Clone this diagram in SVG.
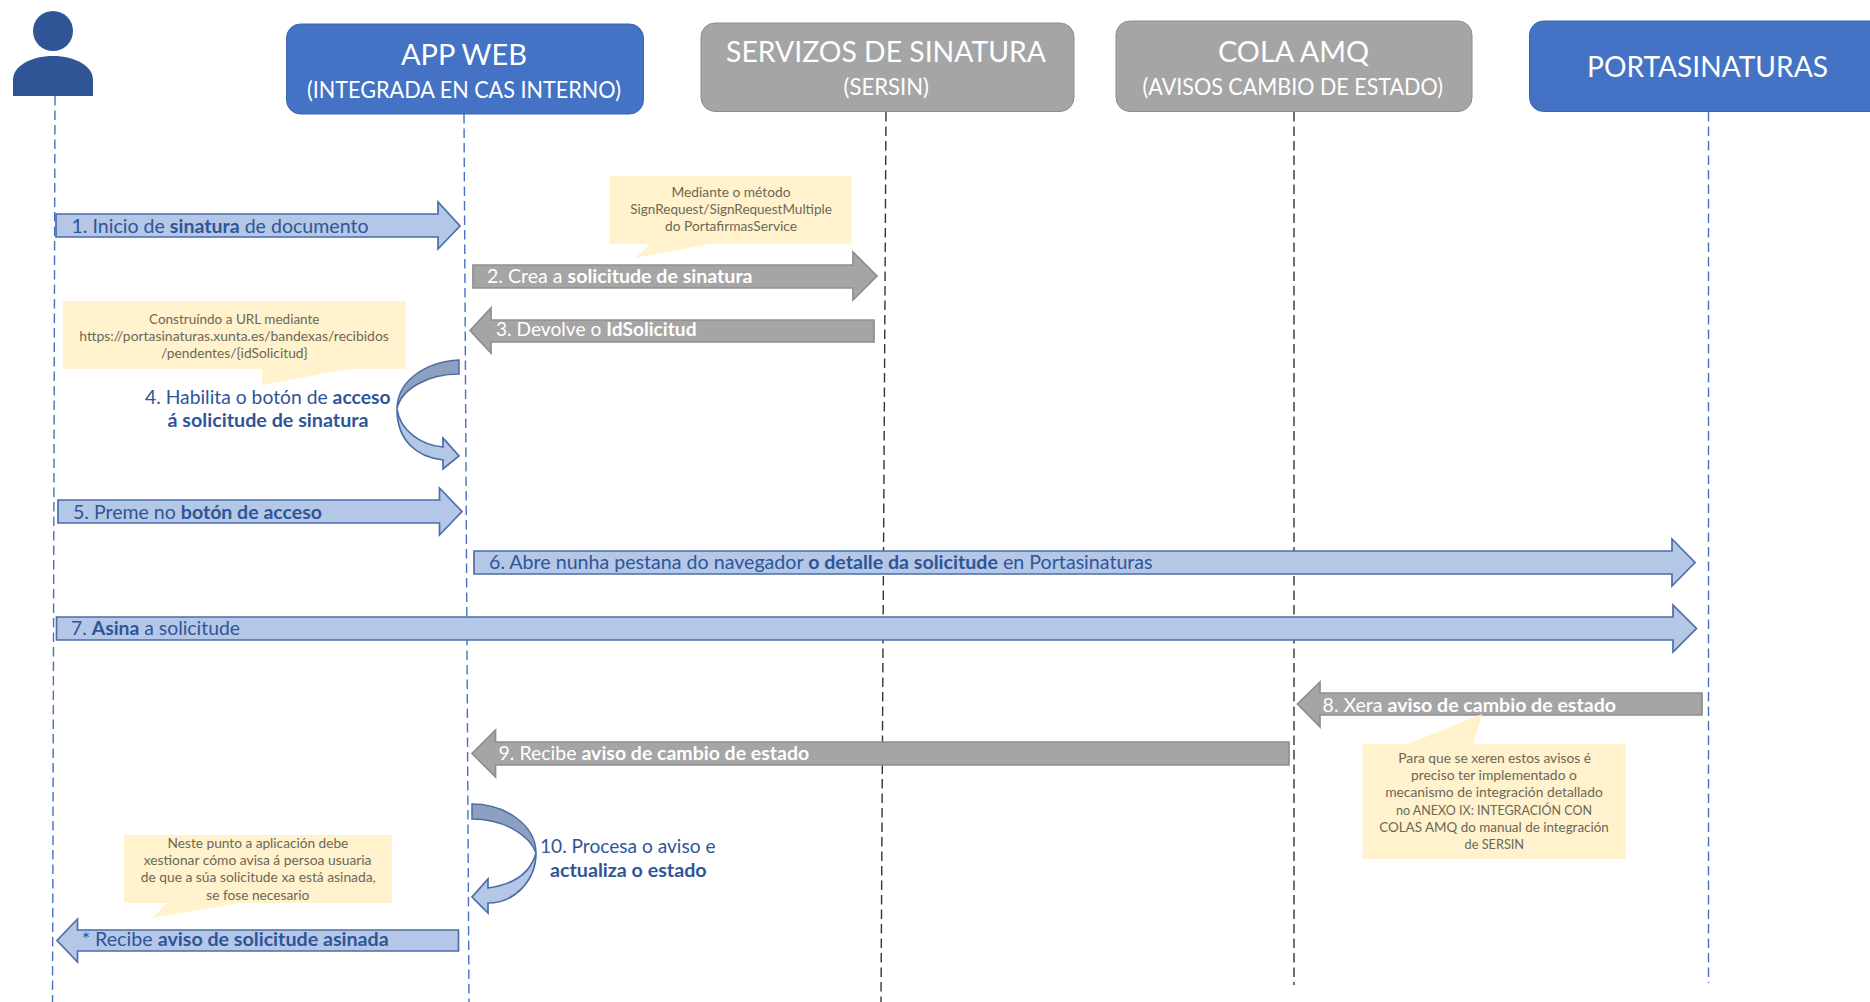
<svg xmlns="http://www.w3.org/2000/svg" width="1870" height="1002" viewBox="0 0 1870 1002">
<style>
text{font-family:Lato,"Liberation Sans",sans-serif}
.bb{fill:#4472c4;stroke:#3b65ae;stroke-width:1}
.gb{fill:#a5a5a5;stroke:#8e8e8e;stroke-width:1}
.t1{fill:#fff;font-size:29px;text-anchor:start}
.t2{fill:#fff;font-size:23px;text-anchor:start}
.lb{fill:none;stroke:#4472c4;stroke-width:1.4;stroke-dasharray:9.500 5}
.lk{fill:none;stroke:#333;stroke-width:1.4;stroke-dasharray:9.500 5}
.ab{fill:#b4c7e7;stroke:#4b6ea9;stroke-width:1.7}
.ag{fill:#a5a5a5;stroke:#8e8e8e;stroke-width:1.7}
.ad{fill:#8ea0bf;stroke:#4b6ea9;stroke-width:1.5}
.tb{fill:#2f5597;font-size:19px}
.tw{fill:#fff;font-size:19px}
.bd{font-weight:700}
.nb{fill:#fff2cc;stroke:none}
.nt{fill:#6b6858;font-size:13px}
</style>
<rect width="1870" height="1002" fill="#fff"/>
<g id="connectors">
<path class="lb" d="M55 96L52.500 1002"/>
<path class="lb" d="M464 114L469 1002"/>
<path class="lk" d="M886 112L881 1002"/>
<path class="lk" d="M1294 112V985"/>
<path class="lb" d="M1708.500 112V983"/>
<g id="arrow-1"><polygon class="ab" points="56,214 438,214 438,202 460,226 438,249 438,237 56,237"/><text class="tb" x="71.500" y="233" textLength="297" lengthAdjust="spacingAndGlyphs">1. Inicio de <tspan class="bd">sinatura</tspan> de documento</text></g>
<g id="arrow-2"><polygon class="ag" points="473,265 853,265 853,252 877,276 853,300 853,288 473,288"/><text class="tw" x="487" y="283" textLength="265.500" lengthAdjust="spacingAndGlyphs">2. Crea a <tspan class="bd">solicitude de sinatura</tspan></text></g>
<g id="arrow-3"><polygon class="ag" points="874,320 491,320 491,308 470,330.500 491,353 491,342 874,342"/><text class="tw" x="496" y="336" textLength="200.500" lengthAdjust="spacingAndGlyphs">3. Devolve o <tspan class="bd">IdSolicitud</tspan></text></g>
<g id="arrow-4"><path class="ab" d="M397 409C400 430 420 445 443 447V438L459 456L443 469V460C416 457 397 440 397 409Z"/><path class="ad" d="M459 360C425 362 397 381 397 409C401 389 428 374 459 374Z"/></g>
<g id="arrow-5"><polygon class="ab" points="58,500 439.500,500 439.500,488 462,511.500 439.500,535 439.500,523 58,523"/><text class="tb" x="73" y="519" textLength="249" lengthAdjust="spacingAndGlyphs">5. Preme no <tspan class="bd">botón de acceso</tspan></text></g>
<g id="arrow-6"><polygon class="ab" points="474,551 1672,551 1672,539 1695,562.500 1672,586 1672,574 474,574"/><text class="tb" x="489" y="569" textLength="663.600" lengthAdjust="spacingAndGlyphs">6. Abre nunha pestana do navegador <tspan class="bd">o detalle da solicitude</tspan> en Portasinaturas</text></g>
<g id="arrow-7"><polygon class="ab" points="56.500,617 1673,617 1673,605 1696.500,628.500 1673,652 1673,640 56.500,640"/><text class="tb" x="71" y="635" textLength="169" lengthAdjust="spacingAndGlyphs">7. <tspan class="bd">Asina</tspan> a solicitude</text></g>
<g id="arrow-8"><polygon class="ag" points="1702,693 1320,693 1320,682 1297.500,704 1320,727 1320,715 1702,715"/><text class="tw" x="1322.600" y="712" textLength="293.400" lengthAdjust="spacingAndGlyphs">8. Xera <tspan class="bd">aviso de cambio de estado</tspan></text></g>
<g id="arrow-9"><polygon class="ag" points="1289,742 495.500,742 495.500,730 472,753.500 495.500,777 495.500,765 1289,765"/><text class="tw" x="498.500" y="760" textLength="310.700" lengthAdjust="spacingAndGlyphs">9. Recibe <tspan class="bd">aviso de cambio de estado</tspan></text></g>
<g id="arrow-10"><path class="ab" d="M536 853C536 880 515 903 488 903V913L472 897L488 879V888C510 885 530 875 536 853Z"/><path class="ad" d="M472 804C505 804 536 825 536 853C530 836 505 819 472 819Z"/></g>
<g id="arrow-11"><polygon class="ab" points="458.500,930 77.500,930 77.500,919 57,940.500 77.500,962 77.500,951 458.500,951"/><text class="tb" x="81.700" y="946" textLength="307" lengthAdjust="spacingAndGlyphs">* Recibe <tspan class="bd">aviso de solicitude asinada</tspan></text></g>
</g>
<g id="actor"><ellipse cx="53" cy="31" rx="20" ry="20" fill="#2f5597"/><path d="M13 96V80C13 66 31 56 53 56C75 56 93 66 93 80V96Z" fill="#2f5597"/></g>
<g id="node-app-web"><rect class="bb" x="286.500" y="24" width="357" height="90" rx="14"/><text class="t1" x="401" y="65" textLength="126" lengthAdjust="spacingAndGlyphs">APP WEB</text><text class="t2" x="307" y="98" textLength="314" lengthAdjust="spacingAndGlyphs">(INTEGRADA EN CAS INTERNO)</text></g>
<g id="node-servizos"><rect class="gb" x="701" y="23" width="373" height="88.500" rx="14"/><text class="t1" x="726" y="62" textLength="320" lengthAdjust="spacingAndGlyphs">SERVIZOS DE SINATURA</text><text class="t2" x="843.500" y="95" textLength="85.500" lengthAdjust="spacingAndGlyphs">(SERSIN)</text></g>
<g id="node-cola"><rect class="gb" x="1116" y="21" width="356" height="90.500" rx="14"/><text class="t1" x="1218" y="62" textLength="151" lengthAdjust="spacingAndGlyphs">COLA AMQ</text><text class="t2" x="1142.500" y="95" textLength="300.500" lengthAdjust="spacingAndGlyphs">(AVISOS CAMBIO DE ESTADO)</text></g>
<g id="node-portasinaturas"><rect class="bb" x="1529.500" y="21" width="360" height="90.500" rx="14"/><text class="t1" x="1587" y="76.500" textLength="241" lengthAdjust="spacingAndGlyphs">PORTASINATURAS</text></g>
<g id="label-4"><text class="tb" x="145" y="403.500" textLength="245.500" lengthAdjust="spacingAndGlyphs">4. Habilita o botón de <tspan class="bd">acceso</tspan></text><text class="tb bd" x="167.500" y="427" textLength="201" lengthAdjust="spacingAndGlyphs">á solicitude de sinatura</text></g>
<g id="label-10"><text class="tb" x="540" y="853" textLength="175.500" lengthAdjust="spacingAndGlyphs">10. Procesa o aviso e</text><text class="tb bd" x="550" y="877" textLength="156.600" lengthAdjust="spacingAndGlyphs">actualiza o estado</text></g>
<g id="note-1"><polygon class="nb" points="610,176 851.500,176 851.500,244 710,244 635,258 650,244 610,244"/><text class="nt" x="671.500" y="197" textLength="119" lengthAdjust="spacingAndGlyphs">Mediante o método</text><text class="nt" x="630.300" y="214" textLength="201.500" lengthAdjust="spacingAndGlyphs">SignRequest/SignRequestMultiple</text><text class="nt" x="665" y="231" textLength="132" lengthAdjust="spacingAndGlyphs">do PortafirmasService</text></g>
<g id="note-2"><polygon class="nb" points="63,301 405.500,301 405.500,369 349,369 262,385 262,369 63,369"/><text class="nt" x="149" y="324" textLength="170.500" lengthAdjust="spacingAndGlyphs">Construíndo a URL mediante</text><text class="nt" x="79.300" y="341" textLength="309.500" lengthAdjust="spacingAndGlyphs">https://portasinaturas.xunta.es/bandexas/recibidos</text><text class="nt" x="161" y="358" textLength="146.700" lengthAdjust="spacingAndGlyphs">/pendentes/{idSolicitud}</text></g>
<g id="note-3"><polygon class="nb" points="1362.500,744 1408,744 1482,714 1473.500,744 1625.500,744 1625.500,859 1362.500,859"/><text class="nt" x="1398.300" y="763" textLength="192.600" lengthAdjust="spacingAndGlyphs">Para que se xeren estos avisos é</text><text class="nt" x="1410.900" y="780" textLength="166" lengthAdjust="spacingAndGlyphs">preciso ter implementado o</text><text class="nt" x="1385.200" y="797" textLength="217.600" lengthAdjust="spacingAndGlyphs">mecanismo de integración detallado</text><text class="nt" x="1396" y="815" textLength="196" lengthAdjust="spacingAndGlyphs">no ANEXO IX: INTEGRACIÓN CON</text><text class="nt" x="1379.200" y="832" textLength="229.600" lengthAdjust="spacingAndGlyphs">COLAS AMQ do manual de integración</text><text class="nt" x="1464.500" y="849" textLength="59.600" lengthAdjust="spacingAndGlyphs">de SERSIN</text></g>
<g id="note-4"><polygon class="nb" points="124,835 392,835 392,903 238.500,903 152,918 167,903 124,903"/><text class="nt" x="167.600" y="848" textLength="180.700" lengthAdjust="spacingAndGlyphs">Neste punto a aplicación debe</text><text class="nt" x="143.700" y="865" textLength="227.800" lengthAdjust="spacingAndGlyphs">xestionar cómo avisa á persoa usuaria</text><text class="nt" x="140.700" y="882" textLength="235" lengthAdjust="spacingAndGlyphs">de que a súa solicitude xa está asinada,</text><text class="nt" x="206.300" y="900" textLength="103" lengthAdjust="spacingAndGlyphs">se fose necesario</text></g>
</svg>
